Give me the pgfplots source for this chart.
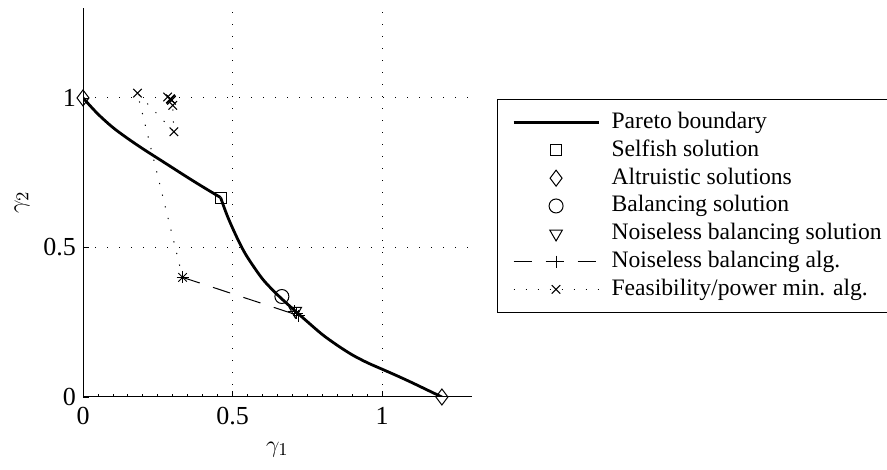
\documentclass[border=0pt]{standalone}
\usepackage{fontspec}
\setmainfont{Liberation Serif}
\usepackage{pgfplots}
\pgfplotsset{compat=1.18}
\begin{document}
\begin{tikzpicture}
\begin{axis}[
  scale only axis, width=194.4pt, height=194.4pt,
  xmin=0, xmax=1.3, ymin=0, ymax=1.3,
  axis lines*=left,
  axis line style={-, line width=0.5pt},
  xtick={0,0.5,1}, ytick={0,0.5,1},
  minor x tick num=9,
  tick align=inside,
  major tick length=3pt, minor tick length=1.5pt,
  tick style={line width=0.4pt, black},
  grid=major,
  major grid style={black, line width=0.5pt, dash pattern=on 0.6pt off 5.4pt},
  /pgf/number format/assume math mode=true,
  tick label style={font=\fontsize{13}{15}\selectfont},
  xticklabel style={yshift=-1.5pt},
  label style={font=\fontsize{13}{15}\selectfont},
  xlabel={$\gamma_1$}, ylabel={$\gamma_2$},
  xlabel style={at={(axis description cs:0.5,-0.135)}, anchor=center},
  ylabel style={at={(axis description cs:-0.157,0.5)}, anchor=center},
  legend cell align=left,
  legend image code/.code={%
    \draw[mark repeat=2,mark phase=2,#1] plot coordinates {(5pt,0pt) (26.25pt,0pt) (47.5pt,0pt)};
    \path[draw=none] (0pt,0pt) (52.5pt,0pt);},
  legend style={at={(axis description cs:1.065,0.766)}, anchor=north west,
    draw=black, line width=0.5pt, font=\fontsize{11.8}{14}\selectfont,
    inner xsep=3pt, inner ysep=4.5pt, row sep=0pt,
    nodes={inner sep=1.5pt, text height=8.4pt, text depth=2.5pt}},
]
\addplot[black, line width=1.4pt, smooth, tension=0.5] coordinates {
  (0,1) (0.05,0.946) (0.1,0.901) (0.15,0.864) (0.2,0.830) (0.25,0.798)
  (0.3,0.766) (0.35,0.734) (0.4,0.703) (0.46,0.667)
};
\addlegendentry{Pareto boundary}
\addplot[black, line width=1.4pt, smooth, tension=0.5, forget plot] coordinates {
  (0.46,0.667) (0.48,0.612) (0.5,0.565) (0.525,0.512) (0.55,0.467)
  (0.6,0.395) (0.65,0.342) (0.7,0.296) (0.75,0.252) (0.8,0.209)
  (0.85,0.173) (0.9,0.141) (0.95,0.115) (1.0,0.093) (1.05,0.071)
  (1.1,0.048) (1.15,0.024) (1.2,0)
};
\addplot[black, only marks, mark=square, mark size=2.75pt, mark options={line width=0.5pt}] coordinates {(0.46,0.667)};
\addlegendentry{Selfish solution}
\addplot[black, only marks, mark=diamond, mark size=4pt, mark options={line width=0.5pt}] coordinates {(0,1) (1.2,0)};
\addlegendentry{Altruistic solutions}
\addplot[black, only marks, mark=o, mark size=3.5pt, mark options={line width=0.5pt}] coordinates {(0.665,0.336)};
\addlegendentry{Balancing solution}
\addplot[black, only marks, mark=triangle, mark size=3.6pt, mark options={rotate=180, line width=0.5pt}] coordinates {(0.71,0.288)};
\addlegendentry{Noiseless balancing solution}
\addplot[black, line width=0.5pt, dash pattern=on 9pt off 7pt, mark=+, mark size=3pt, mark options={solid}] coordinates {
  (0.333,0.40) (0.722,0.272) (0.706,0.287) (0.714,0.280)
};
\addlegendentry{Noiseless balancing alg.}
\addplot[black, line width=0.5pt, dash pattern=on 0.6pt off 5.4pt, mark=x, mark size=3pt, mark options={solid}] coordinates {
  (0.333,0.40) (0.182,1.016) (0.304,0.887) (0.300,0.975) (0.296,0.992)
  (0.283,1.003) (0.292,0.997) (0.294,0.995) (0.293,0.996)
};
\addlegendentry{Feasibility/power min. alg.}
\end{axis}
\pgfresetboundingbox
\path (current axis.south west) ++(-41.5pt,-36.5pt) rectangle ++(443.5pt,235pt);
\end{tikzpicture}
\end{document}
